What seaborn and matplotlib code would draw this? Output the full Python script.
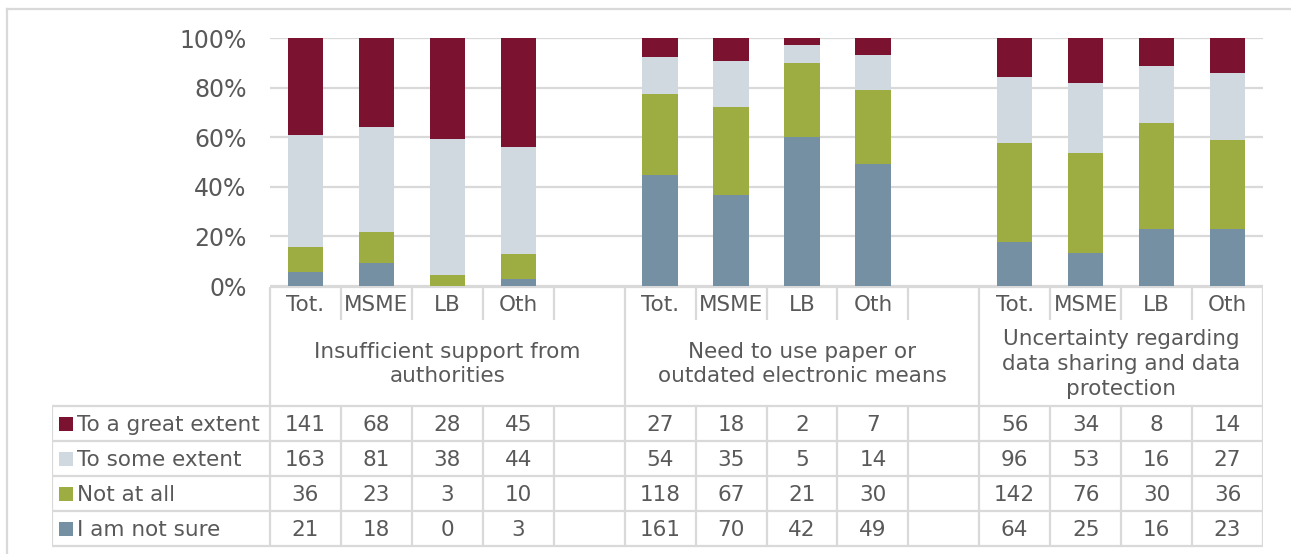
import matplotlib.pyplot as plt
import numpy as np
import pandas as pd
import seaborn as sns

# survey counts
groups = ["Insufficient support from\nauthorities",
          "Need to use paper or\noutdated electronic means",
          "Uncertainty regarding\ndata sharing and data\nprotection"]
segments = ["Tot.", "MSME", "LB", "Oth"]
answers = ["To a great extent", "To some extent", "Not at all", "I am not sure"]
colors = ["#7B1230", "#D0D9E0", "#9EAD42", "#7590A3"]

great_extent = [141, 68, 28, 45, 27, 18, 2, 7, 56, 34, 8, 14]
some_extent = [163, 81, 38, 44, 54, 35, 5, 14, 96, 53, 16, 27]
not_at_all = [36, 23, 3, 10, 118, 67, 21, 30, 142, 76, 30, 36]
not_sure = [21, 18, 0, 3, 161, 70, 42, 49, 64, 25, 16, 23]

counts = [great_extent, some_extent, not_at_all, not_sure]

# slot layout: 4 segments per group plus one empty slot between groups
slots = []
for gi in range(len(groups)):
    for s in segments:
        slots.append(f"{gi}-{s}")
    if gi < len(groups) - 1:
        slots.append(f"gap{gi}")
bar_slots = [s for s in slots if not s.startswith("gap")]

df = pd.DataFrame({"slot": bar_slots})
for a, c in zip(answers, counts):
    df[a] = c
total = df[answers].sum(axis=1)
# cumulative share from the bottom (not sure) upwards
cum = 0
for a in answers[::-1]:
    cum = cum + df[a] / total * 100
    df["cum " + a] = cum

text_col = "#595959"
line_col = "#D9D9D9"
plt.rcParams["font.family"] = ["DejaVu Sans"]

W, H = 1291, 554
fig = plt.figure(figsize=(W / 100, H / 100), dpi=100)

def px_axes(x0, y0, x1, y1):
    return fig.add_axes([x0 / W, 1 - y1 / H, (x1 - x0) / W, (y1 - y0) / H])

ax = px_axes(270, 38, 1263, 286)
# draw tallest layer first so shorter layers overlay it
for a, col in zip(answers, colors):
    sns.barplot(data=df, x="slot", y="cum " + a, order=slots, color=col,
                width=0.5, saturation=1, ax=ax, linewidth=0, zorder=3)
ax.set_xlim(-0.5, len(slots) - 0.5)
ax.set_ylim(0, 100)
ax.set_yticks(np.arange(0, 101, 20))
ax.set_yticklabels([f"{v}%" for v in range(0, 101, 20)])
ax.tick_params(axis="y", length=0, pad=17, labelsize=17, labelcolor=text_col)
ax.tick_params(axis="x", length=0, labelbottom=False)
ax.grid(axis="y", color=line_col, linewidth=1.6, zorder=0)
ax.set_xlabel("")
ax.set_ylabel("")
for sp in ax.spines.values():
    sp.set_visible(False)

# data table under the plot
slot_w = 993 / len(slots)
tab = px_axes(52, 286, 1263, 548)
left_edge = -0.5 - 218 / slot_w
tab.set_xlim(left_edge, len(slots) - 0.5)
tab.set_ylim(548, 286)
tab.axis("off")

lk = dict(color=line_col, linewidth=1.6, solid_capstyle="butt")
row_y = [406, 441, 476, 511, 546]
cat_top, cat_bot = 287, 320
bounds = np.arange(len(slots) + 1) - 0.5
# category row
for b in bounds:
    tab.plot([b, b], [cat_top, cat_bot], **lk)
tab.plot([bounds[0], bounds[-1]], [287, 287], **lk)
# group label row: lines only at group edges
group_edges = [-0.5] + [i + 0.5 for i, s in enumerate(slots) if s.startswith("gap")] + [len(slots) - 0.5]
for b in group_edges:
    tab.plot([b, b], [cat_bot, row_y[0]], **lk)
# data rows
for y in row_y:
    tab.plot([left_edge, bounds[-1]], [y, y], **lk)
for b in list(bounds) + [left_edge]:
    tab.plot([b, b], [row_y[0], row_y[-1]], **lk)

fs = 15.5
for i, s in enumerate(slots):
    if s.startswith("gap"):
        continue
    tab.text(i, (cat_top + cat_bot) / 2 + 1, s.split("-")[1], ha="center", va="center",
             fontsize=fs, color=text_col)
for gi, g in enumerate(groups):
    lo = group_edges[gi]
    hi = group_edges[gi + 1]
    tab.text((lo + hi) / 2, (cat_bot + row_y[0]) / 2 + 1, g, ha="center", va="center",
             fontsize=fs, color=text_col, linespacing=1.3)

for r, (a, col, vals) in enumerate(zip(answers, colors, counts)):
    yc = (row_y[r] + row_y[r + 1]) / 2
    tab.scatter([left_edge + 14 / slot_w], [yc], marker="s", s=110, color=col,
                linewidths=0, clip_on=False)
    tab.text(left_edge + 25 / slot_w, yc + 1, a, ha="left", va="center",
             fontsize=fs, color=text_col)
    for slot, v in zip(bar_slots, vals):
        tab.text(slots.index(slot), yc + 1, str(v), ha="center", va="center",
                 fontsize=fs, color=text_col)

# outer chart frame: only the left and top edges fall inside the picture
fig.add_artist(plt.Line2D([7 / W, 7 / W], [0, 1 - 9 / H], transform=fig.transFigure,
                          color=line_col, linewidth=1.6))
fig.add_artist(plt.Line2D([7 / W, 1], [1 - 9 / H, 1 - 9 / H], transform=fig.transFigure,
                          color=line_col, linewidth=1.6))

fig.savefig("out.png", dpi=100)
